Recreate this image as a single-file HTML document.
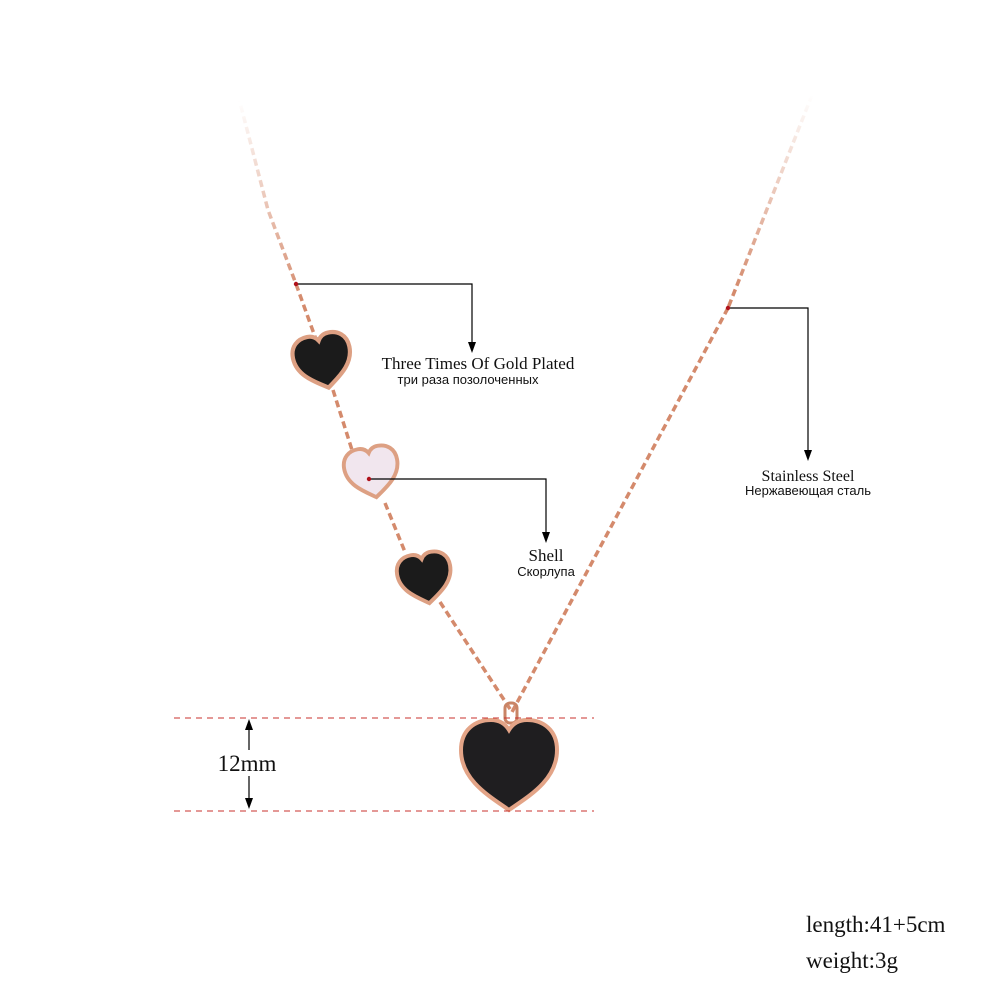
<!DOCTYPE html>
<html><head><meta charset="utf-8"><style>
html,body{margin:0;padding:0;background:#fff;}
svg{display:block}
.s{font-family:"Liberation Serif",serif;fill:#111}
.r{font-family:"Liberation Sans","DejaVu Sans",sans-serif;fill:#111}
</style></head><body>
<svg width="1000" height="1000" viewBox="0 0 1000 1000" xmlns="http://www.w3.org/2000/svg">
<defs>
<linearGradient id="fl" x1="0" y1="100" x2="0" y2="300" gradientUnits="userSpaceOnUse">
<stop offset="0" stop-color="#d9957a" stop-opacity="0"/>
<stop offset="1" stop-color="#d48a6c" stop-opacity="1"/>
</linearGradient>
<linearGradient id="fr" x1="0" y1="95" x2="0" y2="290" gradientUnits="userSpaceOnUse">
<stop offset="0" stop-color="#d9957a" stop-opacity="0"/>
<stop offset="1" stop-color="#d48a6c" stop-opacity="1"/>
</linearGradient>
<path id="h" d="M50,92 C30,78 2,62 2,32 C2,12 16,2 32,2 C42,2 47,7 50,12 C53,7 58,2 68,2 C84,2 98,12 98,32 C98,62 70,78 50,92 Z"/>
</defs>
<!-- chains -->
<g fill="none" stroke-width="3.5" stroke-dasharray="7 4">
<path d="M238,95 L268,210 L296,284 L318,345" stroke="url(#fl)"/>
<path d="M333,390 L352,450 M385,503 L405,552 M440,602 L512,712" stroke="#d48a6c"/>
<path d="M812,95 L728,308" stroke="url(#fr)"/>
<path d="M728,308 L512,712" stroke="#d48a6c"/>
</g>
<rect x="505" y="703" width="12" height="20" rx="5" fill="none" stroke="#c98466" stroke-width="3"/>
<!-- hearts -->
<g transform="translate(293,333) rotate(-12 30 28) scale(0.6)">
<use href="#h" fill="#1b1b1b" stroke="#dda083" stroke-width="7"/></g>
<g transform="translate(344,446) rotate(-10 28 26) scale(0.56)">
<use href="#h" fill="#f1e6ee" stroke="#dda083" stroke-width="7"/></g>
<g transform="translate(397,552) rotate(-10 28 26) scale(0.56)">
<use href="#h" fill="#1b1b1b" stroke="#dda083" stroke-width="7"/></g>
<g transform="translate(459,718) scale(1.0,1.0)">
<use href="#h" fill="#1f1e20" stroke="#e3a487" stroke-width="4"/></g>
<!-- callouts -->
<g stroke="#000" stroke-width="1.2" fill="none">
<polyline points="296,284 472,284 472,344"/>
<polyline points="369,479 546,479 546,534"/>
<polyline points="728,308 808,308 808,452"/>
</g>
<g fill="#000">
<polygon points="468,342 476,342 472,353"/>
<polygon points="542,532 550,532 546,543"/>
<polygon points="804,450 812,450 808,461"/>
</g>
<circle cx="296" cy="284" r="2.2" fill="#b0121b"/>
<circle cx="369" cy="479" r="2.2" fill="#b0121b"/>
<circle cx="728" cy="308" r="2.2" fill="#b0121b"/>
<text class="s" x="478" y="369" font-size="17" text-anchor="middle">Three Times Of Gold Plated</text>
<text class="r" x="468" y="384" font-size="13" text-anchor="middle">три раза позолоченных</text>
<text class="s" x="546" y="561" font-size="17" text-anchor="middle">Shell</text>
<text class="r" x="546" y="576" font-size="13" text-anchor="middle">Скорлупа</text>
<text class="s" x="808" y="481" font-size="16" text-anchor="middle">Stainless Steel</text>
<text class="r" x="808" y="495" font-size="13" text-anchor="middle">Нержавеющая сталь</text>
<!-- dimension -->
<g stroke="#c9302c" stroke-width="1" stroke-dasharray="6 5">
<line x1="174" y1="718" x2="594" y2="718"/>
<line x1="174" y1="811" x2="594" y2="811"/>
</g>
<g stroke="#000" stroke-width="1.2">
<line x1="249" y1="750" x2="249" y2="728"/>
<line x1="249" y1="776" x2="249" y2="800"/>
</g>
<g fill="#000">
<polygon points="245,730 253,730 249,719"/>
<polygon points="245,798 253,798 249,809"/>
</g>
<text class="s" x="247" y="771" font-size="23" text-anchor="middle">12mm</text>
<text class="s" x="806" y="932" font-size="23">length:41+5cm</text>
<text class="s" x="806" y="968" font-size="23">weight:3g</text>
</svg>
</body></html>
